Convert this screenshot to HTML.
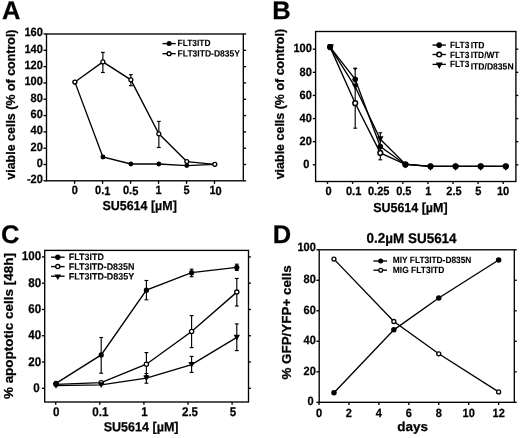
<!DOCTYPE html>
<html><head><meta charset="utf-8"><title>Figure</title>
<style>
html,body{margin:0;padding:0;background:#fff;}
svg{display:block;filter:blur(0.4px);}
text{font-family:"Liberation Sans", Arial, Helvetica, sans-serif;font-weight:bold;fill:#000;}
</style></head><body>
<svg width="520" height="438" viewBox="0 0 520 438">
<rect width="520" height="438" fill="#fff"/>
<rect x="46.50" y="34.00" width="196.80" height="146.80" fill="none" stroke="#000" stroke-width="1.35"/>
<line x1="43.50" y1="180.81" x2="46.50" y2="180.81" stroke="#000" stroke-width="1.35"/>
<line x1="243.30" y1="180.81" x2="246.10" y2="180.81" stroke="#000" stroke-width="1.35"/>
<text x="42.90" y="183.31" font-size="12.0" text-anchor="end" textLength="15.96" lengthAdjust="spacingAndGlyphs" transform="rotate(0.03 42.90 183.31)" stroke="#000" stroke-width="0.25">-20</text>
<line x1="43.50" y1="164.50" x2="46.50" y2="164.50" stroke="#000" stroke-width="1.35"/>
<line x1="243.30" y1="164.50" x2="246.10" y2="164.50" stroke="#000" stroke-width="1.35"/>
<text x="42.90" y="167.00" font-size="12.0" text-anchor="end" textLength="6.14" lengthAdjust="spacingAndGlyphs" transform="rotate(0.03 42.90 167.00)" stroke="#000" stroke-width="0.25">0</text>
<line x1="43.50" y1="148.19" x2="46.50" y2="148.19" stroke="#000" stroke-width="1.35"/>
<line x1="243.30" y1="148.19" x2="246.10" y2="148.19" stroke="#000" stroke-width="1.35"/>
<text x="42.90" y="150.69" font-size="12.0" text-anchor="end" textLength="12.28" lengthAdjust="spacingAndGlyphs" transform="rotate(0.03 42.90 150.69)" stroke="#000" stroke-width="0.25">20</text>
<line x1="43.50" y1="131.88" x2="46.50" y2="131.88" stroke="#000" stroke-width="1.35"/>
<line x1="243.30" y1="131.88" x2="246.10" y2="131.88" stroke="#000" stroke-width="1.35"/>
<text x="42.90" y="134.38" font-size="12.0" text-anchor="end" textLength="12.28" lengthAdjust="spacingAndGlyphs" transform="rotate(0.03 42.90 134.38)" stroke="#000" stroke-width="0.25">40</text>
<line x1="43.50" y1="115.56" x2="46.50" y2="115.56" stroke="#000" stroke-width="1.35"/>
<line x1="243.30" y1="115.56" x2="246.10" y2="115.56" stroke="#000" stroke-width="1.35"/>
<text x="42.90" y="118.06" font-size="12.0" text-anchor="end" textLength="12.28" lengthAdjust="spacingAndGlyphs" transform="rotate(0.03 42.90 118.06)" stroke="#000" stroke-width="0.25">60</text>
<line x1="43.50" y1="99.25" x2="46.50" y2="99.25" stroke="#000" stroke-width="1.35"/>
<line x1="243.30" y1="99.25" x2="246.10" y2="99.25" stroke="#000" stroke-width="1.35"/>
<text x="42.90" y="101.75" font-size="12.0" text-anchor="end" textLength="12.28" lengthAdjust="spacingAndGlyphs" transform="rotate(0.03 42.90 101.75)" stroke="#000" stroke-width="0.25">80</text>
<line x1="43.50" y1="82.94" x2="46.50" y2="82.94" stroke="#000" stroke-width="1.35"/>
<line x1="243.30" y1="82.94" x2="246.10" y2="82.94" stroke="#000" stroke-width="1.35"/>
<text x="42.90" y="85.44" font-size="12.0" text-anchor="end" textLength="18.42" lengthAdjust="spacingAndGlyphs" transform="rotate(0.03 42.90 85.44)" stroke="#000" stroke-width="0.25">100</text>
<line x1="43.50" y1="66.63" x2="46.50" y2="66.63" stroke="#000" stroke-width="1.35"/>
<line x1="243.30" y1="66.63" x2="246.10" y2="66.63" stroke="#000" stroke-width="1.35"/>
<text x="42.90" y="69.13" font-size="12.0" text-anchor="end" textLength="18.42" lengthAdjust="spacingAndGlyphs" transform="rotate(0.03 42.90 69.13)" stroke="#000" stroke-width="0.25">120</text>
<line x1="43.50" y1="50.32" x2="46.50" y2="50.32" stroke="#000" stroke-width="1.35"/>
<line x1="243.30" y1="50.32" x2="246.10" y2="50.32" stroke="#000" stroke-width="1.35"/>
<text x="42.90" y="52.82" font-size="12.0" text-anchor="end" textLength="18.42" lengthAdjust="spacingAndGlyphs" transform="rotate(0.03 42.90 52.82)" stroke="#000" stroke-width="0.25">140</text>
<line x1="43.50" y1="34.00" x2="46.50" y2="34.00" stroke="#000" stroke-width="1.35"/>
<line x1="243.30" y1="34.00" x2="246.10" y2="34.00" stroke="#000" stroke-width="1.35"/>
<text x="42.90" y="36.50" font-size="12.0" text-anchor="end" textLength="18.42" lengthAdjust="spacingAndGlyphs" transform="rotate(0.03 42.90 36.50)" stroke="#000" stroke-width="0.25">160</text>
<line x1="74.60" y1="180.80" x2="74.60" y2="183.80" stroke="#000" stroke-width="1.35"/>
<text x="74.70" y="194.50" font-size="12.0" text-anchor="middle" textLength="6.14" lengthAdjust="spacingAndGlyphs" transform="rotate(0.03 74.70 194.50)" stroke="#000" stroke-width="0.25">0</text>
<line x1="102.58" y1="180.80" x2="102.58" y2="183.80" stroke="#000" stroke-width="1.35"/>
<text x="102.68" y="194.50" font-size="12.0" text-anchor="middle" textLength="15.35" lengthAdjust="spacingAndGlyphs" transform="rotate(0.03 102.68 194.50)" stroke="#000" stroke-width="0.25">0.1</text>
<line x1="130.56" y1="180.80" x2="130.56" y2="183.80" stroke="#000" stroke-width="1.35"/>
<text x="130.66" y="194.50" font-size="12.0" text-anchor="middle" textLength="15.35" lengthAdjust="spacingAndGlyphs" transform="rotate(0.03 130.66 194.50)" stroke="#000" stroke-width="0.25">0.5</text>
<line x1="158.54" y1="180.80" x2="158.54" y2="183.80" stroke="#000" stroke-width="1.35"/>
<text x="158.64" y="194.50" font-size="12.0" text-anchor="middle" textLength="6.14" lengthAdjust="spacingAndGlyphs" transform="rotate(0.03 158.64 194.50)" stroke="#000" stroke-width="0.25">1</text>
<line x1="186.52" y1="180.80" x2="186.52" y2="183.80" stroke="#000" stroke-width="1.35"/>
<text x="186.62" y="194.50" font-size="12.0" text-anchor="middle" textLength="6.14" lengthAdjust="spacingAndGlyphs" transform="rotate(0.03 186.62 194.50)" stroke="#000" stroke-width="0.25">5</text>
<line x1="214.50" y1="180.80" x2="214.50" y2="183.80" stroke="#000" stroke-width="1.35"/>
<text x="215.60" y="194.50" font-size="12.0" text-anchor="middle" textLength="12.28" lengthAdjust="spacingAndGlyphs" transform="rotate(0.03 215.60 194.50)" stroke="#000" stroke-width="0.25">10</text>
<text x="139.60" y="210.00" font-size="13.0" text-anchor="middle" textLength="74.40" lengthAdjust="spacingAndGlyphs" transform="rotate(0.03 139.60 210.00)" stroke="#000" stroke-width="0.25">SU5614 [µM]</text>
<text x="14.70" y="104.60" font-size="13.3" text-anchor="middle" textLength="150.20" lengthAdjust="spacingAndGlyphs" transform="rotate(-90 14.70 104.60)" stroke="#000" stroke-width="0.25">viable cells (% of control)</text>
<text x="1.90" y="19.00" font-size="25.5" text-anchor="start" transform="rotate(0.03 1.90 19.00)" stroke="#000" stroke-width="0.25">A</text>
<polyline points="74.90,82.12 102.88,157.00 130.86,164.01 158.84,164.01 186.82,165.56 214.80,164.34" fill="none" stroke="#000" stroke-width="1.35" stroke-linejoin="miter" stroke-linecap="butt"/>
<polyline points="74.90,82.04 102.88,61.90 130.86,79.84 158.84,133.83 186.82,161.56 214.80,164.34" fill="none" stroke="#000" stroke-width="1.35" stroke-linejoin="miter" stroke-linecap="butt"/>
<line x1="102.88" y1="155.53" x2="102.88" y2="158.38" stroke="#000" stroke-width="1.15"/>
<line x1="100.98" y1="155.53" x2="104.78" y2="155.53" stroke="#000" stroke-width="1.15"/>
<line x1="100.98" y1="158.38" x2="104.78" y2="158.38" stroke="#000" stroke-width="1.15"/>
<line x1="102.88" y1="52.40" x2="102.88" y2="72.50" stroke="#000" stroke-width="1.15"/>
<line x1="100.98" y1="52.40" x2="104.78" y2="52.40" stroke="#000" stroke-width="1.15"/>
<line x1="100.98" y1="72.50" x2="104.78" y2="72.50" stroke="#000" stroke-width="1.15"/>
<line x1="130.86" y1="74.70" x2="130.86" y2="85.70" stroke="#000" stroke-width="1.15"/>
<line x1="128.96" y1="74.70" x2="132.76" y2="74.70" stroke="#000" stroke-width="1.15"/>
<line x1="128.96" y1="85.70" x2="132.76" y2="85.70" stroke="#000" stroke-width="1.15"/>
<line x1="158.84" y1="121.40" x2="158.84" y2="147.50" stroke="#000" stroke-width="1.15"/>
<line x1="156.94" y1="121.40" x2="160.74" y2="121.40" stroke="#000" stroke-width="1.15"/>
<line x1="156.94" y1="147.50" x2="160.74" y2="147.50" stroke="#000" stroke-width="1.15"/>
<circle cx="74.90" cy="82.12" r="2.4" fill="#000"/>
<circle cx="102.88" cy="157.00" r="2.4" fill="#000"/>
<circle cx="130.86" cy="164.01" r="2.4" fill="#000"/>
<circle cx="158.84" cy="164.01" r="2.4" fill="#000"/>
<circle cx="186.82" cy="165.56" r="2.4" fill="#000"/>
<circle cx="214.80" cy="164.34" r="2.4" fill="#000"/>
<circle cx="74.90" cy="82.04" r="1.95" fill="#fff" stroke="#000" stroke-width="1.3"/>
<circle cx="102.88" cy="61.90" r="1.95" fill="#fff" stroke="#000" stroke-width="1.3"/>
<circle cx="130.86" cy="79.84" r="1.95" fill="#fff" stroke="#000" stroke-width="1.3"/>
<circle cx="158.84" cy="133.83" r="1.95" fill="#fff" stroke="#000" stroke-width="1.3"/>
<circle cx="186.82" cy="161.56" r="1.95" fill="#fff" stroke="#000" stroke-width="1.3"/>
<circle cx="214.80" cy="164.34" r="1.95" fill="#fff" stroke="#000" stroke-width="1.3"/>
<line x1="162.50" y1="43.60" x2="175.70" y2="43.60" stroke="#000" stroke-width="1.35"/>
<circle cx="169.10" cy="43.60" r="2.5" fill="#000"/>
<text x="177.60" y="46.40" font-size="9.0" text-anchor="start" textLength="32.90" lengthAdjust="spacingAndGlyphs" transform="rotate(0.03 177.60 46.40)" stroke="#000" stroke-width="0.1">FLT3ITD</text>
<line x1="162.50" y1="53.65" x2="175.70" y2="53.65" stroke="#000" stroke-width="1.35"/>
<circle cx="169.10" cy="53.65" r="1.95" fill="#fff" stroke="#000" stroke-width="1.35"/>
<text x="177.60" y="56.45" font-size="9.0" text-anchor="start" textLength="62.40" lengthAdjust="spacingAndGlyphs" transform="rotate(0.03 177.60 56.45)" stroke="#000" stroke-width="0.1">FLT3ITD-D835Y</text>
<rect x="315.60" y="31.50" width="200.30" height="150.00" fill="none" stroke="#000" stroke-width="1.35"/>
<line x1="312.80" y1="164.80" x2="315.60" y2="164.80" stroke="#000" stroke-width="1.35"/>
<line x1="515.90" y1="164.80" x2="518.30" y2="164.80" stroke="#000" stroke-width="1.35"/>
<text x="309.40" y="168.10" font-size="12.0" text-anchor="end" textLength="6.14" lengthAdjust="spacingAndGlyphs" transform="rotate(0.03 309.40 168.10)" stroke="#000" stroke-width="0.25">0</text>
<line x1="312.80" y1="141.68" x2="315.60" y2="141.68" stroke="#000" stroke-width="1.35"/>
<line x1="515.90" y1="141.68" x2="518.30" y2="141.68" stroke="#000" stroke-width="1.35"/>
<text x="311.80" y="144.98" font-size="12.0" text-anchor="end" textLength="12.28" lengthAdjust="spacingAndGlyphs" transform="rotate(0.03 311.80 144.98)" stroke="#000" stroke-width="0.25">20</text>
<line x1="312.80" y1="118.56" x2="315.60" y2="118.56" stroke="#000" stroke-width="1.35"/>
<line x1="515.90" y1="118.56" x2="518.30" y2="118.56" stroke="#000" stroke-width="1.35"/>
<text x="311.80" y="121.86" font-size="12.0" text-anchor="end" textLength="12.28" lengthAdjust="spacingAndGlyphs" transform="rotate(0.03 311.80 121.86)" stroke="#000" stroke-width="0.25">40</text>
<line x1="312.80" y1="95.44" x2="315.60" y2="95.44" stroke="#000" stroke-width="1.35"/>
<line x1="515.90" y1="95.44" x2="518.30" y2="95.44" stroke="#000" stroke-width="1.35"/>
<text x="311.80" y="98.74" font-size="12.0" text-anchor="end" textLength="12.28" lengthAdjust="spacingAndGlyphs" transform="rotate(0.03 311.80 98.74)" stroke="#000" stroke-width="0.25">60</text>
<line x1="312.80" y1="72.32" x2="315.60" y2="72.32" stroke="#000" stroke-width="1.35"/>
<line x1="515.90" y1="72.32" x2="518.30" y2="72.32" stroke="#000" stroke-width="1.35"/>
<text x="311.80" y="75.62" font-size="12.0" text-anchor="end" textLength="12.28" lengthAdjust="spacingAndGlyphs" transform="rotate(0.03 311.80 75.62)" stroke="#000" stroke-width="0.25">80</text>
<line x1="312.80" y1="49.20" x2="315.60" y2="49.20" stroke="#000" stroke-width="1.35"/>
<line x1="515.90" y1="49.20" x2="518.30" y2="49.20" stroke="#000" stroke-width="1.35"/>
<text x="311.80" y="52.50" font-size="12.0" text-anchor="end" textLength="18.42" lengthAdjust="spacingAndGlyphs" transform="rotate(0.03 311.80 52.50)" stroke="#000" stroke-width="0.25">100</text>
<line x1="327.50" y1="181.50" x2="327.50" y2="183.90" stroke="#000" stroke-width="1.35"/>
<text x="328.50" y="194.70" font-size="12.0" text-anchor="middle" textLength="6.14" lengthAdjust="spacingAndGlyphs" transform="rotate(0.03 328.50 194.70)" stroke="#000" stroke-width="0.25">0</text>
<line x1="352.60" y1="181.50" x2="352.60" y2="183.90" stroke="#000" stroke-width="1.35"/>
<text x="353.60" y="194.70" font-size="12.0" text-anchor="middle" textLength="15.35" lengthAdjust="spacingAndGlyphs" transform="rotate(0.03 353.60 194.70)" stroke="#000" stroke-width="0.25">0.1</text>
<line x1="377.70" y1="181.50" x2="377.70" y2="183.90" stroke="#000" stroke-width="1.35"/>
<text x="378.70" y="194.70" font-size="12.0" text-anchor="middle" textLength="21.49" lengthAdjust="spacingAndGlyphs" transform="rotate(0.03 378.70 194.70)" stroke="#000" stroke-width="0.25">0.25</text>
<line x1="402.80" y1="181.50" x2="402.80" y2="183.90" stroke="#000" stroke-width="1.35"/>
<text x="403.80" y="194.70" font-size="12.0" text-anchor="middle" textLength="15.35" lengthAdjust="spacingAndGlyphs" transform="rotate(0.03 403.80 194.70)" stroke="#000" stroke-width="0.25">0.5</text>
<line x1="427.90" y1="181.50" x2="427.90" y2="183.90" stroke="#000" stroke-width="1.35"/>
<text x="428.20" y="194.70" font-size="12.0" text-anchor="middle" textLength="6.14" lengthAdjust="spacingAndGlyphs" transform="rotate(0.03 428.20 194.70)" stroke="#000" stroke-width="0.25">1</text>
<line x1="453.00" y1="181.50" x2="453.00" y2="183.90" stroke="#000" stroke-width="1.35"/>
<text x="454.00" y="194.70" font-size="12.0" text-anchor="middle" textLength="15.35" lengthAdjust="spacingAndGlyphs" transform="rotate(0.03 454.00 194.70)" stroke="#000" stroke-width="0.25">2.5</text>
<line x1="478.10" y1="181.50" x2="478.10" y2="183.90" stroke="#000" stroke-width="1.35"/>
<text x="478.30" y="194.70" font-size="12.0" text-anchor="middle" textLength="6.14" lengthAdjust="spacingAndGlyphs" transform="rotate(0.03 478.30 194.70)" stroke="#000" stroke-width="0.25">5</text>
<line x1="503.20" y1="181.50" x2="503.20" y2="183.90" stroke="#000" stroke-width="1.35"/>
<text x="503.10" y="194.70" font-size="12.0" text-anchor="middle" textLength="12.28" lengthAdjust="spacingAndGlyphs" transform="rotate(0.03 503.10 194.70)" stroke="#000" stroke-width="0.25">10</text>
<text x="410.40" y="212.00" font-size="13.0" text-anchor="middle" textLength="74.40" lengthAdjust="spacingAndGlyphs" transform="rotate(0.03 410.40 212.00)" stroke="#000" stroke-width="0.25">SU5614 [µM]</text>
<text x="283.90" y="104.10" font-size="13.3" text-anchor="middle" textLength="150.40" lengthAdjust="spacingAndGlyphs" transform="rotate(-90 283.90 104.10)" stroke="#000" stroke-width="0.25">viable cells (% of control)</text>
<text x="272.30" y="19.00" font-size="25.5" text-anchor="start" transform="rotate(0.03 272.30 19.00)" stroke="#000" stroke-width="0.25">B</text>
<polyline points="330.10,47.12 355.20,79.37 380.30,146.54 405.40,164.45 430.50,166.30 455.60,166.30 480.70,166.30 505.80,166.30" fill="none" stroke="#000" stroke-width="1.35" stroke-linejoin="miter" stroke-linecap="butt"/>
<polyline points="330.10,47.12 355.20,103.19 380.30,152.89 405.40,164.45 430.50,166.30 455.60,166.30 480.70,166.30 505.80,166.30" fill="none" stroke="#000" stroke-width="1.35" stroke-linejoin="miter" stroke-linecap="butt"/>
<polyline points="330.10,47.12 355.20,86.77 380.30,139.25 405.40,164.11 430.50,166.30 455.60,166.30 480.70,166.30 505.80,166.30" fill="none" stroke="#000" stroke-width="1.35" stroke-linejoin="miter" stroke-linecap="butt"/>
<line x1="355.20" y1="68.40" x2="355.20" y2="128.20" stroke="#000" stroke-width="1.15"/>
<line x1="353.30" y1="68.40" x2="357.10" y2="68.40" stroke="#000" stroke-width="1.15"/>
<line x1="353.30" y1="128.20" x2="357.10" y2="128.20" stroke="#000" stroke-width="1.15"/>
<polygon points="353.20,67.8 357.20,67.8 355.20,70.8" fill="#000"/>
<line x1="380.30" y1="132.80" x2="380.30" y2="159.80" stroke="#000" stroke-width="1.15"/>
<line x1="378.40" y1="132.80" x2="382.20" y2="132.80" stroke="#000" stroke-width="1.15"/>
<line x1="378.40" y1="159.80" x2="382.20" y2="159.80" stroke="#000" stroke-width="1.15"/>
<circle cx="330.10" cy="47.12" r="2.35" fill="#fff" stroke="#000" stroke-width="1.5"/>
<circle cx="355.20" cy="103.19" r="2.35" fill="#fff" stroke="#000" stroke-width="1.5"/>
<circle cx="380.30" cy="152.89" r="2.35" fill="#fff" stroke="#000" stroke-width="1.5"/>
<circle cx="405.40" cy="164.45" r="2.35" fill="#fff" stroke="#000" stroke-width="1.5"/>
<circle cx="430.50" cy="166.30" r="2.35" fill="#fff" stroke="#000" stroke-width="1.5"/>
<circle cx="455.60" cy="166.30" r="2.35" fill="#fff" stroke="#000" stroke-width="1.5"/>
<circle cx="480.70" cy="166.30" r="2.35" fill="#fff" stroke="#000" stroke-width="1.5"/>
<circle cx="505.80" cy="166.30" r="2.35" fill="#fff" stroke="#000" stroke-width="1.5"/>
<circle cx="330.10" cy="47.12" r="2.8" fill="#000"/>
<circle cx="355.20" cy="79.37" r="2.8" fill="#000"/>
<circle cx="380.30" cy="146.54" r="2.8" fill="#000"/>
<circle cx="405.40" cy="164.45" r="2.8" fill="#000"/>
<circle cx="430.50" cy="166.30" r="2.8" fill="#000"/>
<circle cx="455.60" cy="166.30" r="2.8" fill="#000"/>
<circle cx="480.70" cy="166.30" r="2.8" fill="#000"/>
<circle cx="505.80" cy="166.30" r="2.8" fill="#000"/>
<polygon points="327.50,44.22 333.90,44.22 330.70,50.42" fill="#000"/>
<polygon points="352.00,83.87 358.40,83.87 355.20,90.07" fill="#000"/>
<polygon points="377.10,136.35 383.50,136.35 380.30,142.55" fill="#000"/>
<polygon points="402.10,162.91 408.70,162.91 405.40,168.51" fill="#000"/>
<polygon points="427.20,165.10 433.80,165.10 430.50,170.70" fill="#000"/>
<polygon points="452.30,165.10 458.90,165.10 455.60,170.70" fill="#000"/>
<polygon points="477.40,165.10 484.00,165.10 480.70,170.70" fill="#000"/>
<polygon points="502.50,165.10 509.10,165.10 505.80,170.70" fill="#000"/>
<line x1="432.50" y1="45.10" x2="445.90" y2="45.10" stroke="#000" stroke-width="1.35"/>
<circle cx="439.20" cy="45.10" r="2.9" fill="#000"/>
<text x="450.00" y="47.90" font-size="9.0" text-anchor="start" textLength="19.40" lengthAdjust="spacingAndGlyphs" transform="rotate(0.03 450.00 47.90)" stroke="#000" stroke-width="0.1">FLT3</text>
<text x="470.70" y="48.30" font-size="9.0" text-anchor="start" textLength="13.85" lengthAdjust="spacingAndGlyphs" transform="rotate(0.03 470.70 48.30)" stroke="#000" stroke-width="0.1">ITD</text>
<line x1="432.50" y1="54.50" x2="445.90" y2="54.50" stroke="#000" stroke-width="1.35"/>
<circle cx="439.20" cy="54.50" r="2.3000000000000003" fill="#fff" stroke="#000" stroke-width="1.5"/>
<text x="450.00" y="57.80" font-size="9.0" text-anchor="start" textLength="19.40" lengthAdjust="spacingAndGlyphs" transform="rotate(0.03 450.00 57.80)" stroke="#000" stroke-width="0.1">FLT3</text>
<text x="470.70" y="58.10" font-size="9.0" text-anchor="start" textLength="28.80" lengthAdjust="spacingAndGlyphs" transform="rotate(0.03 470.70 58.10)" stroke="#000" stroke-width="0.1">ITD/WT</text>
<line x1="432.50" y1="64.40" x2="445.90" y2="64.40" stroke="#000" stroke-width="1.35"/>
<polygon points="435.90,62.60 442.70,62.60 439.30,69.10" fill="#000"/>
<text x="450.00" y="66.80" font-size="9.0" text-anchor="start" textLength="19.40" lengthAdjust="spacingAndGlyphs" transform="rotate(0.03 450.00 66.80)" stroke="#000" stroke-width="0.1">FLT3</text>
<text x="470.70" y="69.40" font-size="9.0" text-anchor="start" textLength="42.90" lengthAdjust="spacingAndGlyphs" transform="rotate(0.03 470.70 69.40)" stroke="#000" stroke-width="0.1">ITD/D835N</text>
<rect x="44.70" y="250.40" width="203.80" height="151.60" fill="none" stroke="#000" stroke-width="1.35"/>
<line x1="41.90" y1="388.30" x2="44.70" y2="388.30" stroke="#000" stroke-width="1.35"/>
<line x1="248.50" y1="388.30" x2="250.90" y2="388.30" stroke="#000" stroke-width="1.35"/>
<text x="39.60" y="391.90" font-size="12.6" text-anchor="end" textLength="6.45" lengthAdjust="spacingAndGlyphs" transform="rotate(0.03 39.60 391.90)" stroke="#000" stroke-width="0.25">0</text>
<line x1="41.90" y1="362.02" x2="44.70" y2="362.02" stroke="#000" stroke-width="1.35"/>
<line x1="248.50" y1="362.02" x2="250.90" y2="362.02" stroke="#000" stroke-width="1.35"/>
<text x="41.10" y="365.62" font-size="12.6" text-anchor="end" textLength="12.89" lengthAdjust="spacingAndGlyphs" transform="rotate(0.03 41.10 365.62)" stroke="#000" stroke-width="0.25">20</text>
<line x1="41.90" y1="335.74" x2="44.70" y2="335.74" stroke="#000" stroke-width="1.35"/>
<line x1="248.50" y1="335.74" x2="250.90" y2="335.74" stroke="#000" stroke-width="1.35"/>
<text x="41.10" y="339.34" font-size="12.6" text-anchor="end" textLength="12.89" lengthAdjust="spacingAndGlyphs" transform="rotate(0.03 41.10 339.34)" stroke="#000" stroke-width="0.25">40</text>
<line x1="41.90" y1="309.46" x2="44.70" y2="309.46" stroke="#000" stroke-width="1.35"/>
<line x1="248.50" y1="309.46" x2="250.90" y2="309.46" stroke="#000" stroke-width="1.35"/>
<text x="41.10" y="313.06" font-size="12.6" text-anchor="end" textLength="12.89" lengthAdjust="spacingAndGlyphs" transform="rotate(0.03 41.10 313.06)" stroke="#000" stroke-width="0.25">60</text>
<line x1="41.90" y1="283.18" x2="44.70" y2="283.18" stroke="#000" stroke-width="1.35"/>
<line x1="248.50" y1="283.18" x2="250.90" y2="283.18" stroke="#000" stroke-width="1.35"/>
<text x="41.10" y="286.78" font-size="12.6" text-anchor="end" textLength="12.89" lengthAdjust="spacingAndGlyphs" transform="rotate(0.03 41.10 286.78)" stroke="#000" stroke-width="0.25">80</text>
<line x1="41.90" y1="256.90" x2="44.70" y2="256.90" stroke="#000" stroke-width="1.35"/>
<line x1="248.50" y1="256.90" x2="250.90" y2="256.90" stroke="#000" stroke-width="1.35"/>
<text x="41.10" y="260.50" font-size="12.6" text-anchor="end" textLength="19.34" lengthAdjust="spacingAndGlyphs" transform="rotate(0.03 41.10 260.50)" stroke="#000" stroke-width="0.25">100</text>
<line x1="55.70" y1="402.00" x2="55.70" y2="404.70" stroke="#000" stroke-width="1.35"/>
<text x="56.10" y="415.80" font-size="12.6" text-anchor="middle" textLength="6.45" lengthAdjust="spacingAndGlyphs" transform="rotate(0.03 56.10 415.80)" stroke="#000" stroke-width="0.25">0</text>
<line x1="99.80" y1="402.00" x2="99.80" y2="404.70" stroke="#000" stroke-width="1.35"/>
<text x="100.40" y="415.80" font-size="12.6" text-anchor="middle" textLength="16.11" lengthAdjust="spacingAndGlyphs" transform="rotate(0.03 100.40 415.80)" stroke="#000" stroke-width="0.25">0.1</text>
<line x1="143.90" y1="402.00" x2="143.90" y2="404.70" stroke="#000" stroke-width="1.35"/>
<text x="144.40" y="415.80" font-size="12.6" text-anchor="middle" textLength="6.45" lengthAdjust="spacingAndGlyphs" transform="rotate(0.03 144.40 415.80)" stroke="#000" stroke-width="0.25">1</text>
<line x1="188.00" y1="402.00" x2="188.00" y2="404.70" stroke="#000" stroke-width="1.35"/>
<text x="190.00" y="415.80" font-size="12.6" text-anchor="middle" textLength="16.11" lengthAdjust="spacingAndGlyphs" transform="rotate(0.03 190.00 415.80)" stroke="#000" stroke-width="0.25">2.5</text>
<line x1="232.10" y1="402.00" x2="232.10" y2="404.70" stroke="#000" stroke-width="1.35"/>
<text x="233.00" y="415.80" font-size="12.6" text-anchor="middle" textLength="6.45" lengthAdjust="spacingAndGlyphs" transform="rotate(0.03 233.00 415.80)" stroke="#000" stroke-width="0.25">5</text>
<text x="141.10" y="431.30" font-size="13.0" text-anchor="middle" textLength="74.90" lengthAdjust="spacingAndGlyphs" transform="rotate(0.03 141.10 431.30)" stroke="#000" stroke-width="0.25">SU5614 [µM]</text>
<text x="13.20" y="326.10" font-size="13.4" text-anchor="middle" textLength="146.00" lengthAdjust="spacingAndGlyphs" transform="rotate(-90 13.20 326.10)" stroke="#000" stroke-width="0.25">% apoptotic cells [48h]</text>
<text x="1.10" y="242.90" font-size="25.5" text-anchor="start" transform="rotate(0.03 1.10 242.90)" stroke="#000" stroke-width="0.25">C</text>
<polyline points="56.00,383.44 101.20,354.92 146.40,290.14 191.60,272.67 236.80,267.41" fill="none" stroke="#000" stroke-width="1.35" stroke-linejoin="miter" stroke-linecap="butt"/>
<polyline points="56.00,384.36 101.20,382.65 146.40,364.25 191.60,331.54 236.80,292.12" fill="none" stroke="#000" stroke-width="1.35" stroke-linejoin="miter" stroke-linecap="butt"/>
<polyline points="56.00,385.67 101.20,384.88 146.40,378.05 191.60,364.65 236.80,337.32" fill="none" stroke="#000" stroke-width="1.35" stroke-linejoin="miter" stroke-linecap="butt"/>
<line x1="101.20" y1="337.50" x2="101.20" y2="373.20" stroke="#000" stroke-width="1.15"/>
<line x1="99.30" y1="337.50" x2="103.10" y2="337.50" stroke="#000" stroke-width="1.15"/>
<line x1="99.30" y1="373.20" x2="103.10" y2="373.20" stroke="#000" stroke-width="1.15"/>
<line x1="146.40" y1="280.50" x2="146.40" y2="299.80" stroke="#000" stroke-width="1.15"/>
<line x1="144.50" y1="280.50" x2="148.30" y2="280.50" stroke="#000" stroke-width="1.15"/>
<line x1="144.50" y1="299.80" x2="148.30" y2="299.80" stroke="#000" stroke-width="1.15"/>
<line x1="191.60" y1="269.20" x2="191.60" y2="276.70" stroke="#000" stroke-width="1.15"/>
<line x1="189.70" y1="269.20" x2="193.50" y2="269.20" stroke="#000" stroke-width="1.15"/>
<line x1="189.70" y1="276.70" x2="193.50" y2="276.70" stroke="#000" stroke-width="1.15"/>
<line x1="236.80" y1="264.20" x2="236.80" y2="270.40" stroke="#000" stroke-width="1.15"/>
<line x1="234.90" y1="264.20" x2="238.70" y2="264.20" stroke="#000" stroke-width="1.15"/>
<line x1="234.90" y1="270.40" x2="238.70" y2="270.40" stroke="#000" stroke-width="1.15"/>
<line x1="146.40" y1="352.60" x2="146.40" y2="375.70" stroke="#000" stroke-width="1.15"/>
<line x1="144.50" y1="352.60" x2="148.30" y2="352.60" stroke="#000" stroke-width="1.15"/>
<line x1="144.50" y1="375.70" x2="148.30" y2="375.70" stroke="#000" stroke-width="1.15"/>
<line x1="191.60" y1="315.60" x2="191.60" y2="347.60" stroke="#000" stroke-width="1.15"/>
<line x1="189.70" y1="315.60" x2="193.50" y2="315.60" stroke="#000" stroke-width="1.15"/>
<line x1="189.70" y1="347.60" x2="193.50" y2="347.60" stroke="#000" stroke-width="1.15"/>
<line x1="236.80" y1="278.50" x2="236.80" y2="306.00" stroke="#000" stroke-width="1.15"/>
<line x1="234.90" y1="278.50" x2="238.70" y2="278.50" stroke="#000" stroke-width="1.15"/>
<line x1="234.90" y1="306.00" x2="238.70" y2="306.00" stroke="#000" stroke-width="1.15"/>
<line x1="146.40" y1="373.50" x2="146.40" y2="383.20" stroke="#000" stroke-width="1.15"/>
<line x1="144.50" y1="373.50" x2="148.30" y2="373.50" stroke="#000" stroke-width="1.15"/>
<line x1="144.50" y1="383.20" x2="148.30" y2="383.20" stroke="#000" stroke-width="1.15"/>
<line x1="191.60" y1="356.40" x2="191.60" y2="372.40" stroke="#000" stroke-width="1.15"/>
<line x1="189.70" y1="356.40" x2="193.50" y2="356.40" stroke="#000" stroke-width="1.15"/>
<line x1="189.70" y1="372.40" x2="193.50" y2="372.40" stroke="#000" stroke-width="1.15"/>
<line x1="236.80" y1="323.90" x2="236.80" y2="350.60" stroke="#000" stroke-width="1.15"/>
<line x1="234.90" y1="323.90" x2="238.70" y2="323.90" stroke="#000" stroke-width="1.15"/>
<line x1="234.90" y1="350.60" x2="238.70" y2="350.60" stroke="#000" stroke-width="1.15"/>
<circle cx="56.00" cy="383.44" r="2.6" fill="#000"/>
<circle cx="101.20" cy="354.92" r="2.6" fill="#000"/>
<circle cx="146.40" cy="290.14" r="2.6" fill="#000"/>
<circle cx="191.60" cy="272.67" r="2.6" fill="#000"/>
<circle cx="236.80" cy="267.41" r="2.6" fill="#000"/>
<circle cx="56.00" cy="384.36" r="2.1" fill="#fff" stroke="#000" stroke-width="1.3"/>
<circle cx="101.20" cy="382.65" r="2.1" fill="#fff" stroke="#000" stroke-width="1.3"/>
<circle cx="146.40" cy="364.25" r="2.1" fill="#fff" stroke="#000" stroke-width="1.3"/>
<circle cx="191.60" cy="331.54" r="2.1" fill="#fff" stroke="#000" stroke-width="1.3"/>
<circle cx="236.80" cy="292.12" r="2.1" fill="#fff" stroke="#000" stroke-width="1.3"/>
<polygon points="52.80,383.07 59.20,383.07 56.00,388.87" fill="#000"/>
<polygon points="98.00,382.28 104.40,382.28 101.20,388.08" fill="#000"/>
<polygon points="143.20,375.45 149.60,375.45 146.40,381.25" fill="#000"/>
<polygon points="188.40,362.05 194.80,362.05 191.60,367.85" fill="#000"/>
<polygon points="233.60,334.72 240.00,334.72 236.80,340.52" fill="#000"/>
<line x1="51.00" y1="257.20" x2="64.60" y2="257.20" stroke="#000" stroke-width="1.35"/>
<circle cx="57.80" cy="257.20" r="2.7" fill="#000"/>
<text x="68.80" y="260.10" font-size="9.3" text-anchor="start" textLength="35.10" lengthAdjust="spacingAndGlyphs" transform="rotate(0.03 68.80 260.10)" stroke="#000" stroke-width="0.1">FLT3ITD</text>
<line x1="51.00" y1="266.60" x2="64.60" y2="266.60" stroke="#000" stroke-width="1.35"/>
<circle cx="57.80" cy="266.60" r="2.1" fill="#fff" stroke="#000" stroke-width="1.3"/>
<text x="68.80" y="269.80" font-size="9.3" text-anchor="start" textLength="65.60" lengthAdjust="spacingAndGlyphs" transform="rotate(0.03 68.80 269.80)" stroke="#000" stroke-width="0.1">FLT3ITD-D835N</text>
<line x1="51.00" y1="276.20" x2="64.60" y2="276.20" stroke="#000" stroke-width="1.35"/>
<polygon points="54.50,274.40 61.10,274.40 57.80,280.00" fill="#000"/>
<text x="68.80" y="279.50" font-size="9.3" text-anchor="start" textLength="65.40" lengthAdjust="spacingAndGlyphs" transform="rotate(0.03 68.80 279.50)" stroke="#000" stroke-width="0.1">FLT3ITD-D835Y</text>
<rect x="319.20" y="249.80" width="195.10" height="152.50" fill="none" stroke="#000" stroke-width="1.35"/>
<line x1="316.40" y1="402.30" x2="319.20" y2="402.30" stroke="#000" stroke-width="1.35"/>
<line x1="514.30" y1="402.30" x2="516.70" y2="402.30" stroke="#000" stroke-width="1.35"/>
<text x="313.60" y="405.20" font-size="12.0" text-anchor="end" textLength="6.14" lengthAdjust="spacingAndGlyphs" transform="rotate(0.03 313.60 405.20)" stroke="#000" stroke-width="0.25">0</text>
<line x1="316.40" y1="371.80" x2="319.20" y2="371.80" stroke="#000" stroke-width="1.35"/>
<line x1="514.30" y1="371.80" x2="516.70" y2="371.80" stroke="#000" stroke-width="1.35"/>
<text x="315.90" y="374.70" font-size="12.0" text-anchor="end" textLength="12.28" lengthAdjust="spacingAndGlyphs" transform="rotate(0.03 315.90 374.70)" stroke="#000" stroke-width="0.25">20</text>
<line x1="316.40" y1="341.30" x2="319.20" y2="341.30" stroke="#000" stroke-width="1.35"/>
<line x1="514.30" y1="341.30" x2="516.70" y2="341.30" stroke="#000" stroke-width="1.35"/>
<text x="315.90" y="344.20" font-size="12.0" text-anchor="end" textLength="12.28" lengthAdjust="spacingAndGlyphs" transform="rotate(0.03 315.90 344.20)" stroke="#000" stroke-width="0.25">40</text>
<line x1="316.40" y1="310.80" x2="319.20" y2="310.80" stroke="#000" stroke-width="1.35"/>
<line x1="514.30" y1="310.80" x2="516.70" y2="310.80" stroke="#000" stroke-width="1.35"/>
<text x="315.90" y="313.70" font-size="12.0" text-anchor="end" textLength="12.28" lengthAdjust="spacingAndGlyphs" transform="rotate(0.03 315.90 313.70)" stroke="#000" stroke-width="0.25">60</text>
<line x1="316.40" y1="280.30" x2="319.20" y2="280.30" stroke="#000" stroke-width="1.35"/>
<line x1="514.30" y1="280.30" x2="516.70" y2="280.30" stroke="#000" stroke-width="1.35"/>
<text x="315.90" y="283.20" font-size="12.0" text-anchor="end" textLength="12.28" lengthAdjust="spacingAndGlyphs" transform="rotate(0.03 315.90 283.20)" stroke="#000" stroke-width="0.25">80</text>
<line x1="316.40" y1="249.80" x2="319.20" y2="249.80" stroke="#000" stroke-width="1.35"/>
<line x1="514.30" y1="249.80" x2="516.70" y2="249.80" stroke="#000" stroke-width="1.35"/>
<text x="315.90" y="251.30" font-size="12.0" text-anchor="end" textLength="18.42" lengthAdjust="spacingAndGlyphs" transform="rotate(0.03 315.90 251.30)" stroke="#000" stroke-width="0.25">100</text>
<line x1="319.00" y1="402.30" x2="319.00" y2="405.00" stroke="#000" stroke-width="1.35"/>
<text x="319.00" y="416.70" font-size="12.0" text-anchor="middle" textLength="6.14" lengthAdjust="spacingAndGlyphs" transform="rotate(0.03 319.00 416.70)" stroke="#000" stroke-width="0.25">0</text>
<line x1="348.94" y1="402.30" x2="348.94" y2="405.00" stroke="#000" stroke-width="1.35"/>
<text x="348.94" y="416.70" font-size="12.0" text-anchor="middle" textLength="6.14" lengthAdjust="spacingAndGlyphs" transform="rotate(0.03 348.94 416.70)" stroke="#000" stroke-width="0.25">2</text>
<line x1="378.88" y1="402.30" x2="378.88" y2="405.00" stroke="#000" stroke-width="1.35"/>
<text x="378.88" y="416.70" font-size="12.0" text-anchor="middle" textLength="6.14" lengthAdjust="spacingAndGlyphs" transform="rotate(0.03 378.88 416.70)" stroke="#000" stroke-width="0.25">4</text>
<line x1="408.82" y1="402.30" x2="408.82" y2="405.00" stroke="#000" stroke-width="1.35"/>
<text x="408.82" y="416.70" font-size="12.0" text-anchor="middle" textLength="6.14" lengthAdjust="spacingAndGlyphs" transform="rotate(0.03 408.82 416.70)" stroke="#000" stroke-width="0.25">6</text>
<line x1="438.76" y1="402.30" x2="438.76" y2="405.00" stroke="#000" stroke-width="1.35"/>
<text x="438.76" y="416.70" font-size="12.0" text-anchor="middle" textLength="6.14" lengthAdjust="spacingAndGlyphs" transform="rotate(0.03 438.76 416.70)" stroke="#000" stroke-width="0.25">8</text>
<line x1="468.70" y1="402.30" x2="468.70" y2="405.00" stroke="#000" stroke-width="1.35"/>
<text x="468.70" y="416.70" font-size="12.0" text-anchor="middle" textLength="12.28" lengthAdjust="spacingAndGlyphs" transform="rotate(0.03 468.70 416.70)" stroke="#000" stroke-width="0.25">10</text>
<line x1="498.64" y1="402.30" x2="498.64" y2="405.00" stroke="#000" stroke-width="1.35"/>
<text x="498.64" y="416.70" font-size="12.0" text-anchor="middle" textLength="12.28" lengthAdjust="spacingAndGlyphs" transform="rotate(0.03 498.64 416.70)" stroke="#000" stroke-width="0.25">12</text>
<text x="411.60" y="242.90" font-size="14.0" text-anchor="middle" textLength="90.00" lengthAdjust="spacingAndGlyphs" transform="rotate(0.03 411.60 242.90)" stroke="#000" stroke-width="0.25">0.2µM SU5614</text>
<text x="412.60" y="430.90" font-size="13.0" text-anchor="middle" textLength="30.70" lengthAdjust="spacingAndGlyphs" transform="rotate(0.03 412.60 430.90)" stroke="#000" stroke-width="0.25">days</text>
<text x="290.70" y="322.40" font-size="13.5" text-anchor="middle" textLength="114.30" lengthAdjust="spacingAndGlyphs" transform="rotate(-90 290.70 322.40)" stroke="#000" stroke-width="0.25">% GFP/YFP+ cells</text>
<text x="272.80" y="243.00" font-size="25.5" text-anchor="start" transform="rotate(0.03 272.80 243.00)" stroke="#000" stroke-width="0.25">D</text>
<polyline points="333.97,392.69 393.85,329.86 438.76,297.99 498.64,260.02" fill="none" stroke="#000" stroke-width="1.35" stroke-linejoin="miter" stroke-linecap="butt"/>
<polyline points="333.97,259.10 393.85,321.48 438.76,353.81 498.64,391.93" fill="none" stroke="#000" stroke-width="1.35" stroke-linejoin="miter" stroke-linecap="butt"/>
<circle cx="333.97" cy="392.69" r="2.75" fill="#000"/>
<circle cx="393.85" cy="329.86" r="2.75" fill="#000"/>
<circle cx="438.76" cy="297.99" r="2.75" fill="#000"/>
<circle cx="498.64" cy="260.02" r="2.75" fill="#000"/>
<circle cx="333.97" cy="259.10" r="2.0" fill="#fff" stroke="#000" stroke-width="1.3"/>
<circle cx="393.85" cy="321.48" r="2.0" fill="#fff" stroke="#000" stroke-width="1.3"/>
<circle cx="438.76" cy="353.81" r="2.0" fill="#fff" stroke="#000" stroke-width="1.3"/>
<circle cx="498.64" cy="391.93" r="2.0" fill="#fff" stroke="#000" stroke-width="1.3"/>
<line x1="373.40" y1="261.00" x2="387.00" y2="261.00" stroke="#000" stroke-width="1.35"/>
<circle cx="380.70" cy="261.00" r="2.5" fill="#000"/>
<text x="392.80" y="263.20" font-size="9.1" text-anchor="start" textLength="78.60" lengthAdjust="spacingAndGlyphs" transform="rotate(0.03 392.80 263.20)" stroke="#000" stroke-width="0.1">MIY FLT3ITD-D835N</text>
<line x1="373.40" y1="270.20" x2="387.00" y2="270.20" stroke="#000" stroke-width="1.35"/>
<circle cx="380.70" cy="270.20" r="1.9" fill="#fff" stroke="#000" stroke-width="1.3"/>
<text x="392.80" y="272.80" font-size="9.1" text-anchor="start" textLength="51.50" lengthAdjust="spacingAndGlyphs" transform="rotate(0.03 392.80 272.80)" stroke="#000" stroke-width="0.1">MIG FLT3ITD</text>
</svg>
</body></html>
